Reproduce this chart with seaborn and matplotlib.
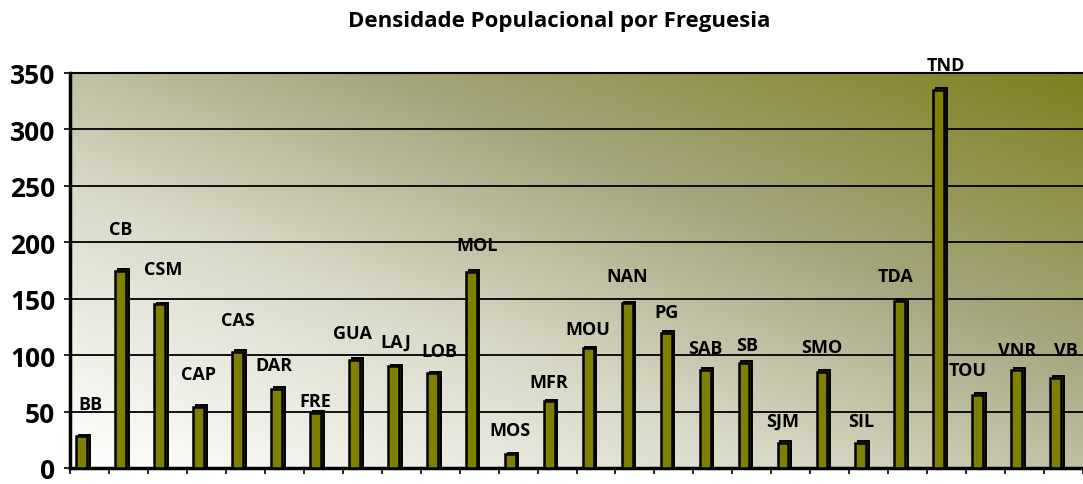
import numpy as np
import pandas as pd
import matplotlib.pyplot as plt
import seaborn as sns
from matplotlib.colors import LinearSegmentedColormap

# Densidade populacional por freguesia
freguesias = ['BB', 'CB', 'CSM', 'CAP', 'CAS', 'DAR', 'FRE', 'GUA', 'LAJ', 'LOB',
              'MOL', 'MOS', 'MFR', 'MOU', 'NAN', 'PG', 'SAB', 'SB', 'SJM', 'SMO',
              'SIL', 'TDA', 'TND', 'TOU', 'VNR', 'VB']
densidade = [28, 175, 145, 54, 103, 70, 49, 96, 90, 84,
             174, 12, 59, 106, 146, 120, 87, 93, 22, 85,
             22, 148, 335, 65, 87, 80]
# onde o Excel colocou cada rótulo (altura e desvio horizontal)
altura_rotulo = [57, 212, 176, 83, 131, 91, 59, 120, 112, 104,
                 198, 34, 76, 123, 170, 138, 106, 109, 42, 107,
                 42, 170, 357, 87, 105, 105]
desvio_rotulo = [0.22, 0, 0.09, 0, 0, -0.06, 0, -0.05, 0.07, 0.17,
                 0.14, 0, 0, 0, 0, 0, 0, 0.08, 0, 0,
                 0, -0.12, 0.17, -0.25, 0, 0.26]

df = pd.DataFrame({'freguesia': freguesias, 'densidade': densidade})

sns.set_theme(style="white")
plt.rcParams['font.family'] = ['Open Sans', 'DejaVu Sans']
plt.rcParams['text.color'] = 'black'
plt.rcParams['ytick.color'] = 'black'

fig = plt.figure(figsize=(10.83, 4.85), dpi=100)
ax = fig.add_axes([70 / 1083, 16 / 485, 1 - 70 / 1083, 395 / 485])

# fundo em gradiente diagonal (branco -> verde-oliva)
n = len(freguesias)
xlim = (-0.3, n - 0.3)
gx, gy = np.meshgrid(np.linspace(0, 1, 200), np.linspace(0, 1, 200))
t = (gx * 0.5 + gy * 0.5)
cmap = LinearSegmentedColormap.from_list(
    'fundo', [(0, '#ffffff'), (0.35, '#dadac9'), (0.65, '#a5a57d'), (1, '#80801f')])
ax.imshow(t, cmap=cmap, origin='lower', aspect='auto',
          extent=(xlim[0], xlim[1], 0, 350), zorder=0, vmin=0, vmax=1)

# face lateral (efeito 3D)
ax.bar(np.arange(n) + 0.07, np.array(densidade) + 1.5, width=0.28,
       color='#55550a', edgecolor='black', linewidth=1.4, zorder=2)
sns.barplot(data=df, x='freguesia', y='densidade', color='#808000',
            saturation=1, width=0.28, edgecolor='black', linewidth=1.8,
            ax=ax, zorder=3)

for i, (nome, h, dx) in enumerate(zip(freguesias, altura_rotulo, desvio_rotulo)):
    ax.text(i + dx, h, nome, ha='center', va='center', fontsize=13,
            fontweight='bold', color='black', zorder=4, clip_on=False)

ax.set_xlim(*xlim)
ax.set_ylim(0, 350)
ax.set_yticks(range(0, 351, 50))
ax.yaxis.grid(True, color='black', linewidth=1.3)
ax.set_axisbelow(False)
for line in ax.get_ygridlines():
    line.set_zorder(1)

ax.set_xticks(np.arange(n + 1) - 0.3)
ax.set_xticklabels([])
ax.tick_params(axis='x', bottom=True, length=4.5, width=1.2, color='black')
ax.tick_params(axis='y', left=True, length=4.5, width=1.2, color='black',
               labelcolor='black', labelsize=19, pad=6)
for lab in ax.get_yticklabels():
    lab.set_fontweight('bold')
ax.set_xlabel('')
ax.set_ylabel('')

ax.spines['left'].set_linewidth(2.5)
ax.spines['bottom'].set_linewidth(2.5)
ax.spines['top'].set_linewidth(1.5)
ax.spines['right'].set_visible(False)
for s in ax.spines.values():
    s.set_color('black')

fig.text(559 / 1083, 1 - 22 / 485, 'Densidade Populacional por Freguesia',
         ha='center', va='center', fontsize=16, fontweight='bold', color='black')

fig.savefig('out.png', dpi=100)
